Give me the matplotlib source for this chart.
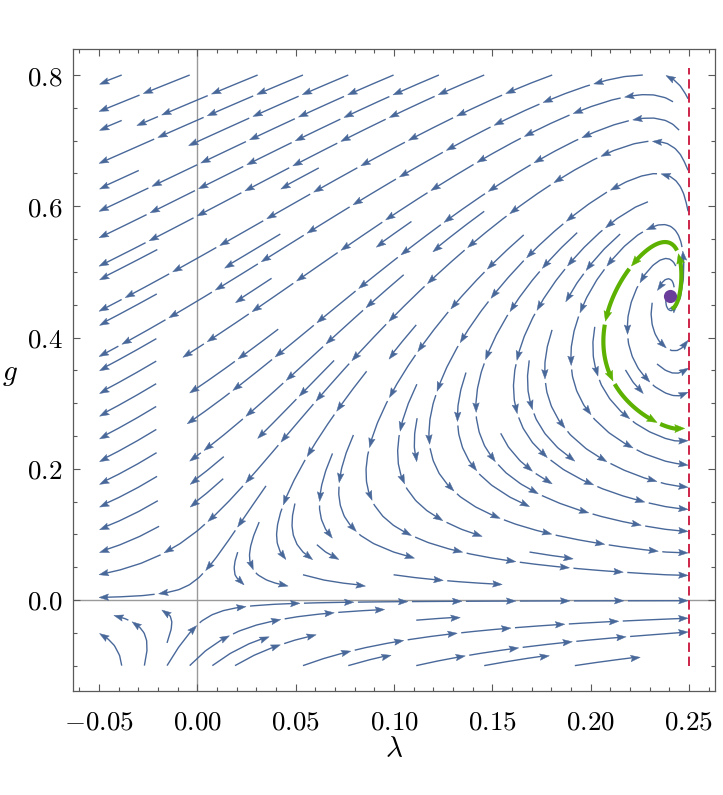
"""
RG flow in the (lambda, g) plane: stream lines with piecewise arrows,
non-Gaussian fixed point, one highlighted trajectory and the singular line.
"""

import numpy as np
import matplotlib
matplotlib.use("Agg")
import matplotlib.pyplot as plt
from matplotlib.collections import LineCollection, PolyCollection
from matplotlib.ticker import MultipleLocator, FuncFormatter

plt.rcParams['mathtext.fontset'] = 'cm'

# ── Flow data ────────────────────────────────────────────────
LAM_RANGE    = [-0.05, 0.25]         # region where streams are drawn
G_RANGE      = [-0.1, 0.8]
XLIM         = [-0.0631, 0.2633]
YLIM         = [-0.1387, 0.8392]
FIXED_POINT  = [0.2404, 0.4632]      # (lambda*, g*)
LAM_SING     = 0.25                  # singular line
SING_G       = [-0.1, 0.81]
GREEN_START  = [0.2413, 0.4439]
GREEN_STOP   = 0.2478

# anomalous dimension  eta = g * (b0 + B_POLE * h),  h = 1/(1 - lambda/LAM_SING)
B_POLE = -0.12
# vacuum term  A = a0 + A_LIN * lambda + (A_POLE + A_POLE_G * g) * h
A_LIN    = 2.676
A_POLE   = 0.0029
A_POLE_G = 0.05

# ── Colour theme ─────────────────────────────────────────────
BLUE   = '#49689a'
GREEN  = '#5db100'
PURPLE = '#6a3d9a'
RED    = '#c8143c'
FRAME  = '#5a5a5a'
AXIS   = '#9a9a9a'

lam_s, g_s = FIXED_POINT
h_s = 1.0 / (1.0 - lam_s / LAM_SING)
b0 = -2.0 / g_s - B_POLE * h_s
a0 = 4.0 * lam_s / g_s - A_LIN * lam_s - (A_POLE + A_POLE_G * g_s) * h_s


def flow(lam, g):
    """IR-directed flow (-beta_lambda, -beta_g)."""
    h = 1.0 / (1.0 - lam / LAM_SING)
    eta = g * (b0 + B_POLE * h)
    A = a0 + A_LIN * lam + (A_POLE + A_POLE_G * g) * h
    return (2.0 - eta) * lam - g * A, -g * (2.0 + eta)


# ── Figure ───────────────────────────────────────────────────
fig = plt.figure(figsize=(7.23, 7.95), dpi=100)
ax = fig.add_axes([0.1014, 0.1308, 0.8876, 0.8072])
ax.set_xlim(XLIM)
ax.set_ylim(YLIM)

# pixel scale of the axes (px per data unit)
sx = ax.transData.transform((1, 0))[0] - ax.transData.transform((0, 0))[0]
sy = ax.transData.transform((0, 1))[1] - ax.transData.transform((0, 0))[1]

# ── stream lines computed by matplotlib on a scratch axes ────
lam_grid = np.linspace(LAM_RANGE[0], LAM_RANGE[1] - 0.0004, 420)
g_grid = np.linspace(G_RANGE[0], G_RANGE[1], 300)
L, G = np.meshgrid(lam_grid, g_grid)
U, V = flow(L, G)
U, V = U * sx, V * sy
mag = np.hypot(U, V)
U, V = U / mag / sx, V / mag / sy

tmp_fig, tmp_ax = plt.subplots()
sp = tmp_ax.streamplot(lam_grid, g_grid, U, V, density=0.92,
                       minlength=0.04, maxlength=6.0)
streams = [np.asarray(s) for s in sp.lines.get_segments()]
plt.close(tmp_fig)


def arrow_pieces(xy, color, lw, head_len, head_w, piece=50.0, gap=4.0, z=3):
    """Split a path into Mathematica-like arrow pieces (line + head at end)."""
    pix = ax.transData.transform(xy)
    d = np.hypot(*np.diff(pix, axis=0).T)
    s = np.concatenate([[0.0], np.cumsum(d)])
    total = s[-1]
    inv = ax.transData.inverted()
    lines, heads = [], []
    start = 0.0
    while total - start > head_len + 3:
        end = min(start + piece, total)
        if total - end < head_len + 8:
            end = total
        base = end - head_len
        ss = np.linspace(start, base, max(int((base - start) / 2) + 2, 2))
        seg = np.column_stack([np.interp(ss, s, pix[:, 0]), np.interp(ss, s, pix[:, 1])])
        tip = np.array([np.interp(end, s, pix[:, 0]), np.interp(end, s, pix[:, 1])])
        bc = seg[-1]
        t = tip - bc
        t = t / (np.hypot(*t) + 1e-12)
        n = np.array([-t[1], t[0]])
        tri = np.array([tip, bc + n * head_w / 2, bc + t * 1.5, bc - n * head_w / 2])
        lines.append(inv.transform(np.vstack([seg, bc + t * 2])))
        heads.append(inv.transform(tri))
        start = end + gap
    ax.add_collection(LineCollection(lines, colors=color, linewidths=lw,
                                     capstyle='butt', zorder=z))
    ax.add_collection(PolyCollection(heads, facecolors=color, edgecolors=color,
                                     linewidths=0.3, zorder=z))


for st in streams:
    if len(st) > 2:
        arrow_pieces(st, BLUE, 1.0, 9.5, 6.5)

# ── highlighted trajectory (integrated from GREEN_START) ─────
pts = [np.array(GREEN_START, dtype=float)]
ds = 0.4  # px per step


def direction(p):
    dl, dg = flow(p[0], p[1])
    vx, vy = dl * sx, dg * sy
    n = np.hypot(vx, vy)
    return np.array([vx / n / sx, vy / n / sy])


for _ in range(12000):
    p = pts[-1]
    k1 = direction(p)
    k2 = direction(p + 0.5 * ds * k1)
    k3 = direction(p + 0.5 * ds * k2)
    k4 = direction(p + ds * k3)
    q = p + ds / 6.0 * (k1 + 2 * k2 + 2 * k3 + k4)
    if q[0] >= 0.2495:
        break
    pts.append(q)
    if q[0] >= GREEN_STOP and q[1] < g_s - 0.05:
        break
green = np.array(pts)
arrow_pieces(green, GREEN, 3.0, 10.0, 8.0, piece=58.0, gap=3.5, z=5)

# ── fixed point, singular line, axes lines ───────────────────
ax.plot([lam_s], [g_s], 'o', ms=9.5, color=PURPLE, mec='none', zorder=6)
ax.plot([LAM_SING, LAM_SING], SING_G, color=RED, lw=1.3, dashes=(5.2, 2.6), zorder=4)
ax.axhline(0, color=AXIS, lw=1.0, zorder=1)
ax.axvline(0, color=AXIS, lw=1.0, zorder=1)

# ── frame & ticks ────────────────────────────────────────────
for sp_ in ax.spines.values():
    sp_.set_color(FRAME)
    sp_.set_linewidth(0.9)
ax.xaxis.set_major_locator(MultipleLocator(0.05))
ax.xaxis.set_minor_locator(MultipleLocator(0.01))
ax.yaxis.set_major_locator(MultipleLocator(0.2))
ax.yaxis.set_minor_locator(MultipleLocator(0.05))
ax.xaxis.set_major_formatter(FuncFormatter(lambda v, _: f"${v:.2f}$"))
ax.yaxis.set_major_formatter(FuncFormatter(lambda v, _: f"${v:.1f}$"))
ax.tick_params(which='both', direction='in', top=True, right=True,
               color=FRAME, width=0.8, labelsize=19.5)
ax.tick_params(which='major', length=5)
ax.tick_params(which='minor', length=2.8)
ax.tick_params(axis='x', pad=13)
ax.tick_params(axis='y', pad=8)

fig.text(394 / 723, 1 - 757 / 795, r'$\lambda$', fontsize=21, ha='center', va='baseline')
fig.text(2 / 723, 1 - 374 / 795, r'$g$', fontsize=21, ha='left', va='center')

fig.savefig('out.png', dpi=100)
